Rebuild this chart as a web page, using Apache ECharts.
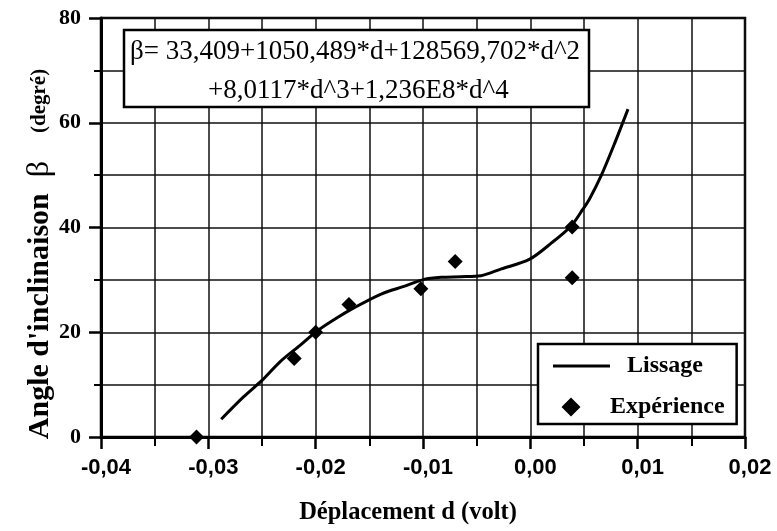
<!DOCTYPE html>
<html>
<head>
<meta charset="utf-8">
<script src="https://cdn.jsdelivr.net/npm/echarts@6/dist/echarts.min.js"></script>
<style>html,body{margin:0;padding:0;background:#fff}#c{width:777px;height:531px}</style>
</head>
<body>
<div id="c"></div>
<script>
// Fitted curve (Lissage)
var fitD = [-0.0288,-0.0267,-0.0250,-0.0233,-0.0214,-0.0199,-0.0183,-0.0164,-0.0139,-0.0117,-0.0099,-0.0083,-0.0065,-0.0046,-0.0027,-0.0001,0.0020,0.0038,0.0049,0.0055,0.0066,0.0079,0.0091];
var fitBeta = [3.4,7.7,10.8,14.4,17.6,20.2,22.4,24.7,27.3,28.8,30.1,30.5,30.6,30.8,32.1,33.9,37.1,40.3,43.5,45.4,49.9,56.3,62.6];
// Experimental points (Expérience)
var expD = [-0.0311,-0.0220,-0.0200,-0.0169,-0.0102,-0.0070,0.0039,0.0039];
var expBeta = [0,15,20,25.3,28.3,33.5,40.1,30.4];
// Axis ranges / ticks
var xMin = -0.04, xMax = 0.02, xStep = 0.01;
var yMin = 0, yMax = 80, yStep = 20;
var seriesNames = ['Lissage','Expérience'];
var eqLine1 = 'β= 33,409+1050,489*d+128569,702*d^2';
var eqLine2 = '+8,0117*d^3+1,236E8*d^4';
var xTitle = 'Déplacement d (volt)';
var yTitleA = "Angle d'inclinaison", yTitleB = 'β', yTitleC = '(degré)';

function zip(a,b){return a.map(function(v,i){return [v,b[i]];});}

var chart = echarts.init(document.getElementById('c'), null, {renderer:'canvas'});
var serif = '"Liberation Serif", "Times New Roman", serif';
var sans = '"Liberation Sans", Arial, sans-serif';
var gridLine = {show:true, lineStyle:{color:'#111', width:1.5}};
var lineIcon = 'path://M0,0L0.01,0L0.01,0.01ZM0,8.5L57,8.5L57,11.5L0,11.5ZM56.99,20L57,20L57,19.99Z';
var diamondIcon = 'path://M0,0L0.01,0L0.01,0.01ZM8.5,10L18,0.5L27.5,10L18,19.5ZM56.99,20L57,20L57,19.99Z';
chart.setOption({
  animation:false,
  backgroundColor:'#fff',
  grid:{left:101, right:32, top:18, bottom:94, show:true, borderColor:'#000', borderWidth:2.5, backgroundColor:'transparent'},
  xAxis:{
    type:'value', min:xMin, max:xMax, interval:xStep,
    axisLine:{show:true, onZero:false, lineStyle:{color:'#000', width:3}},
    axisTick:{show:true, inside:false, length:12, lineStyle:{color:'#000', width:2.5}},
    minorTick:{show:true, splitNumber:2, length:9, lineStyle:{color:'#000', width:2}},
    splitLine:gridLine,
    minorSplitLine:gridLine,
    axisLabel:{margin:20, color:'#000', fontFamily:sans, fontWeight:'bold', fontSize:22, padding:[0,0,0,10],
      formatter:function(v){return (Math.round(v*100)/100).toFixed(2).replace('.',',');}}
  },
  yAxis:{
    type:'value', min:yMin, max:yMax, interval:yStep,
    axisLine:{show:true, onZero:false, lineStyle:{color:'#000', width:3}},
    axisTick:{show:true, inside:false, length:12, lineStyle:{color:'#000', width:2.5}},
    minorTick:{show:true, splitNumber:2, length:7, lineStyle:{color:'#000', width:2}},
    splitLine:gridLine,
    minorSplitLine:gridLine,
    axisLabel:{margin:20, color:'#000', fontFamily:serif, fontWeight:'bold', fontSize:22}
  },
  legend:{
    orient:'vertical', left:538, top:344,
    padding:[10,12,5,15], itemGap:17, itemWidth:57, itemHeight:20,
    backgroundColor:'#fff', borderColor:'#000', borderWidth:2.5,
    textStyle:{color:'#000', fontFamily:serif, fontSize:24, fontWeight:'bold'},
    data:[
      {name:seriesNames[0], icon:lineIcon, itemStyle:{color:'#000', opacity:1}, textStyle:{padding:[0,0,0,12]}},
      {name:seriesNames[1], icon:diamondIcon, itemStyle:{color:'#000', opacity:1}, textStyle:{padding:[0,0,0,-5]}}
    ]
  },
  series:[
    {name:seriesNames[0], type:'line', data:zip(fitD,fitBeta), smooth:0.3, symbol:'none',
     lineStyle:{color:'#000', width:3}, itemStyle:{color:'#000'}, z:5},
    {name:seriesNames[1], type:'scatter', data:zip(expD,expBeta), symbol:'diamond', symbolSize:15,
     clip:false, itemStyle:{color:'#000', opacity:1}, z:6}
  ],
  graphic:[
    {type:'rect', shape:{x:124, y:30, width:465, height:77}, style:{fill:'#fff', stroke:'#000', lineWidth:2.5}, z:100},
    {type:'text', x:130, y:52, style:{text:eqLine1, fill:'#000', font:'27px '+serif, textVerticalAlign:'middle', textAlign:'left'}, z:101},
    {type:'text', x:208, y:91, style:{text:eqLine2, fill:'#000', font:'27px '+serif, textVerticalAlign:'middle', textAlign:'left'}, z:101},
    {type:'text', x:408, y:513, style:{text:xTitle, fill:'#000', font:'bold 24.5px '+serif, textVerticalAlign:'middle', textAlign:'center'}, z:101},
    {type:'text', x:40, y:254, rotation:Math.PI/2, style:{
      text:'{a|'+yTitleA+'}{s1| }{b|'+yTitleB+'}{s2| }{c|'+yTitleC+'}',
      rich:{
        a:{fontFamily:serif, fontWeight:'bold', fontSize:30, fill:'#000', verticalAlign:'middle', lineHeight:34},
        b:{fontFamily:serif, fontSize:32, fill:'#000', verticalAlign:'middle', lineHeight:34},
        c:{fontFamily:serif, fontWeight:'bold', fontSize:21, fill:'#000', verticalAlign:'middle', lineHeight:34},
        s1:{width:16, fontSize:12, verticalAlign:'middle', lineHeight:34},
        s2:{width:28, fontSize:12, verticalAlign:'middle', lineHeight:34}
      },
      textVerticalAlign:'middle', textAlign:'center'}, z:101}
  ]
});
</script>
</body>
</html>
